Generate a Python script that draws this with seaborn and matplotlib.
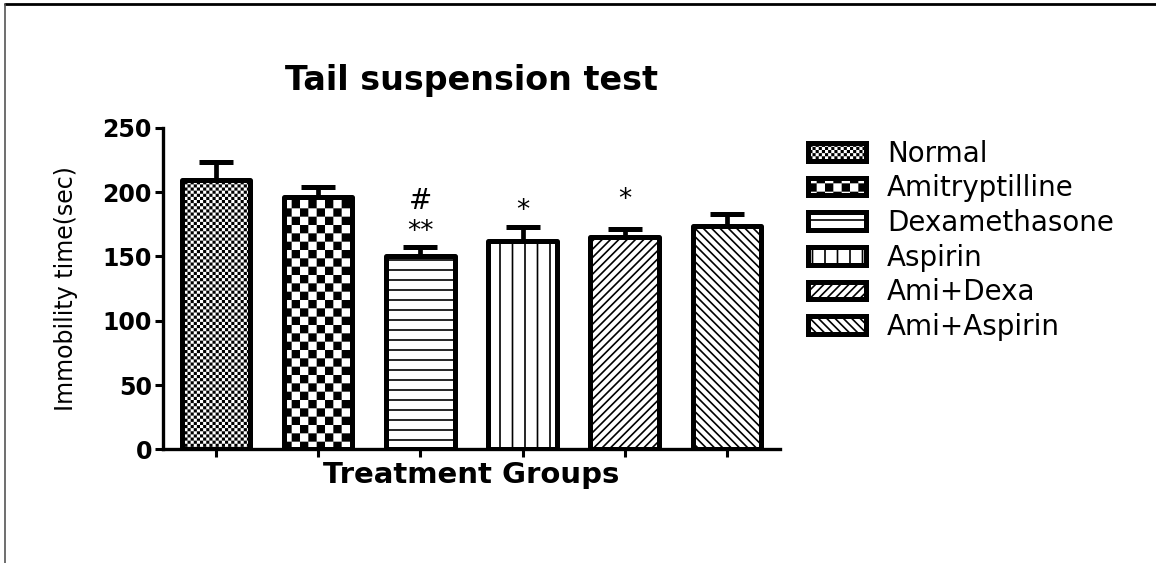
import warnings

import numpy as np
import pandas as pd
import matplotlib
matplotlib.use("Agg")
import matplotlib.pyplot as plt
from matplotlib import hatch as mhatch
from matplotlib.lines import Line2D
from matplotlib.path import Path
import seaborn as sns

warnings.filterwarnings("ignore")

groups = ["Normal", "Amitryptilline", "Dexamethasone", "Aspirin", "Ami+Dexa", "Ami+Aspirin"]
means = [209, 196, 150, 162, 165, 173.5]
sems = [14, 8, 7, 11, 6, 9.5]
marks = ["", "", "**", "*", "*", ""]
marks2 = ["", "", "#", "", "", ""]
yticks = [0, 50, 100, 150, 200, 250]

# c = fine checks, k = coarse checks, h = horizontal lines, v = vertical lines
hatches = ["c", "k", "h", "v", "////", "\\\\\\\\"]
mark_gap = [0, 0, 12, 12, 23, 0]

HATCH_LW = 1.2


class PrismHatch(mhatch.HatchPatternBase):
    """Extra hatch types: checkerboards and evenly spaced lines."""

    def __init__(self, hatch, density):
        self.kind = None
        self.n = 0
        for ch, n in (("c", 32), ("k", 12), ("h", 10), ("v", 8)):
            if ch in hatch:
                self.kind, self.n = ch, n
        if self.kind in ("c", "k"):
            self.num_vertices = (self.n * self.n // 2) * 5
        elif self.kind in ("h", "v"):
            self.num_vertices = (self.n + 1) * 2
        else:
            self.num_vertices = 0

    def set_vertices_and_codes(self, vertices, codes):
        n = self.n
        s = 1.0 / n
        if self.kind in ("c", "k"):
            pad = 0.5 * HATCH_LW / 72.0
            k = 0
            for i in range(n):
                for j in range(n):
                    if (i + j) % 2:
                        continue
                    x0, y0 = i * s + pad, j * s + pad
                    x1, y1 = (i + 1) * s - pad, (j + 1) * s - pad
                    vertices[k:k + 5] = [(x0, y0), (x1, y0), (x1, y1), (x0, y1), (x0, y0)]
                    codes[k:k + 5] = [Path.MOVETO, Path.LINETO, Path.LINETO,
                                      Path.LINETO, Path.CLOSEPOLY]
                    k += 5
        else:
            steps = np.linspace(0.0, 1.0, n + 1)
            if self.kind == "h":
                vertices[0::2, 0] = 0.0
                vertices[0::2, 1] = steps
                vertices[1::2, 0] = 1.0
                vertices[1::2, 1] = steps
            else:
                vertices[0::2, 0] = steps
                vertices[0::2, 1] = 0.0
                vertices[1::2, 0] = steps
                vertices[1::2, 1] = 1.0
            codes[0::2] = Path.MOVETO
            codes[1::2] = Path.LINETO


mhatch._hatch_types.append(PrismHatch)

sns.set_style("ticks")
plt.rcParams["font.family"] = ["DejaVu Sans"]
plt.rcParams["hatch.linewidth"] = HATCH_LW
plt.rcParams["hatch.color"] = "black"
for key in ["text.color", "axes.labelcolor", "axes.edgecolor", "xtick.color", "ytick.color"]:
    plt.rcParams[key] = "black"

df = pd.DataFrame({"group": groups, "value": means})

fig = plt.figure(figsize=(11.56, 5.63), dpi=100)
ax = fig.add_axes([0.141, 0.2016, 0.5337, 0.5716])

sns.barplot(
    data=df,
    x="group",
    y="value",
    hue="group",
    palette=["white"] * len(groups),
    saturation=1,
    edgecolor="black",
    linewidth=3.6,
    width=0.67,
    errorbar=None,
    legend=False,
    ax=ax,
)

for cont, h in zip(ax.containers, hatches):
    for bar in cont:
        bar.set_hatch(h)
        bar.set_joinstyle("round")

x = np.arange(len(groups))
ax.errorbar(
    x,
    means,
    yerr=[np.zeros(len(sems)), sems],
    fmt="none",
    ecolor="black",
    elinewidth=3.4,
    capsize=12,
    capthick=3.6,
    zorder=1,
)

tops = np.array(means) + np.array(sems)
for xi, top, m, gap in zip(x, tops, marks, mark_gap):
    if m:
        ax.text(xi, top + gap, m, ha="center", va="center", fontsize=19)
for xi, top, m in zip(x, tops, marks2):
    if m:
        ax.text(xi, top + 36, m, ha="center", va="center", fontsize=20)

ax.set_xlim(-0.52, 5.52)
ax.set_ylim(0, 250)
ax.set_yticks(yticks)
ax.set_yticklabels([str(t) for t in yticks], fontsize=17, fontweight="bold")
ax.tick_params(axis="x", labelbottom=False, length=6, width=2.2, direction="out")
ax.tick_params(axis="y", length=6, width=2.2, direction="out", pad=2)
for side in ["left", "bottom"]:
    ax.spines[side].set_linewidth(2.4)
sns.despine(ax=ax)

ax.set_title("Tail suspension test", fontsize=24, fontweight="bold", pad=27)
ax.set_xlabel("Treatment Groups", fontsize=21, fontweight="bold", labelpad=2)
ax.set_ylabel("Immobility time(sec)", fontsize=17, labelpad=18)

fig.legend(
    handles=ax.containers,
    labels=groups,
    loc="upper left",
    bbox_to_anchor=(0.699, 0.752),
    frameon=False,
    fontsize=20,
    handlelength=2.1,
    handleheight=0.6,
    handletextpad=0.75,
    labelspacing=0.24,
    borderpad=0,
    borderaxespad=0,
)

# frame lines of the original export
fig.add_artist(Line2D([0.0043, 1.0], [0.9929, 0.9929], transform=fig.transFigure,
                      color="black", linewidth=2))
fig.add_artist(Line2D([0.0043, 0.0043], [0.0, 0.9929], transform=fig.transFigure,
                      color="#555555", linewidth=1.2))

fig.savefig("out.png", dpi=100)
